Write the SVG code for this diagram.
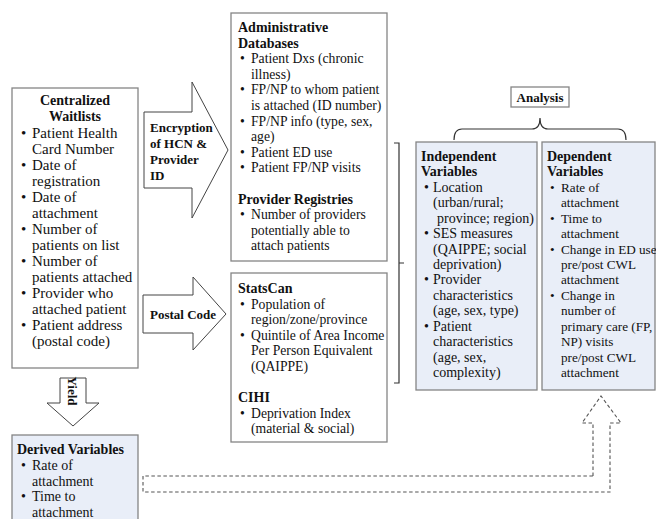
<svg xmlns="http://www.w3.org/2000/svg" width="656" height="519" viewBox="0 0 656 519">
<style>
text{font-family:"Liberation Serif","Times New Roman",serif;font-size:14px;fill:#111}
.b{font-weight:bold}
.s13 text{font-size:13.2px}
.s15 text{font-size:15px}
.s15 text.b{font-size:14px}
.s137 text{font-size:13.7px}
.s137 text.b{font-size:14px}
.lbl{font-size:13px}
.box{fill:#fff;stroke:#858585;stroke-width:1.3}
.blue{fill:#e9eef8;stroke:#858585;stroke-width:1.3}
.arr{fill:#fff;stroke:#444;stroke-width:1}
.ln{fill:none;stroke:#333;stroke-width:1.2}
.dash{fill:none;stroke:#555;stroke-width:1.1;stroke-dasharray:3.5 2.5}
</style>
<rect width="656" height="519" fill="#fff"/>

<g id="connectors">
  <path class="arr" d="M144,112 H192 V82 L228,150 L192,218 V188 H144 Z"/>
  <path class="arr" d="M143,295 H193 V277 L226,314 L193,350 V333 H143 Z"/>
  <path class="arr" d="M60,378 H86 V403 H99 L73,426 L47,403 H60 Z"/>
  <path class="ln" d="M394,143 H399 V383 H394 M399,263 H404"/>
  <path class="ln" d="M454,140 Q454,129 462,129 H532 Q540,129 540,118 Q540,129 548,129 H618 Q626,129 626,140" stroke-width="1"/>
  <path class="dash" d="M593,476 V423 H582 L601,396 L621,423 H610 V492 H143 V476 Z"/>
</g>

<g id="waitlists" class="s15">
  <rect class="box" x="12" y="88" width="126" height="280"/>
  <text class="b" x="75" y="105" text-anchor="middle">Centralized</text>
  <text class="b" x="75" y="121" text-anchor="middle">Waitlists</text>
  <text x="21" y="138">•</text><text x="32" y="138">Patient Health</text>
  <text x="32" y="154">Card Number</text>
  <text x="21" y="170">•</text><text x="32" y="170">Date of</text>
  <text x="32" y="186">registration</text>
  <text x="21" y="202">•</text><text x="32" y="202">Date of</text>
  <text x="32" y="218">attachment</text>
  <text x="21" y="234">•</text><text x="32" y="234">Number of</text>
  <text x="32" y="250">patients on list</text>
  <text x="21" y="266">•</text><text x="32" y="266">Number of</text>
  <text x="32" y="282">patients attached</text>
  <text x="21" y="298">•</text><text x="32" y="298">Provider who</text>
  <text x="32" y="314">attached patient</text>
  <text x="21" y="330">•</text><text x="32" y="330">Patient address</text>
  <text x="32" y="346">(postal code)</text>
</g>

<g id="encryption-label">
  <text class="b lbl" x="150" y="132">Encryption</text>
  <text class="b lbl" x="150" y="148">of HCN &amp;</text>
  <text class="b lbl" x="150" y="164">Provider</text>
  <text class="b lbl" x="150" y="180">ID</text>
</g>

<g id="postal-label">
  <text class="b lbl" x="150" y="319">Postal Code</text>
</g>

<g id="yield-label">
  <text class="b lbl" x="0" y="0" text-anchor="middle" transform="translate(68,391) rotate(90)">Yield</text>
</g>

<g id="admin" class="s137">
  <rect class="box" x="231" y="13" width="156" height="248"/>
  <text class="b" x="238" y="32">Administrative</text>
  <text class="b" x="238" y="47.6">Databases</text>
  <text x="240" y="63.2">•</text><text x="251" y="63.2">Patient Dxs (chronic</text>
  <text x="251" y="78.8">illness)</text>
  <text x="240" y="94.4">•</text><text x="251" y="94.4">FP/NP to whom patient</text>
  <text x="251" y="110">is attached (ID number)</text>
  <text x="240" y="125.6">•</text><text x="251" y="125.6">FP/NP info (type, sex,</text>
  <text x="251" y="141.2">age)</text>
  <text x="240" y="156.8">•</text><text x="251" y="156.8">Patient ED use</text>
  <text x="240" y="172.4">•</text><text x="251" y="172.4">Patient FP/NP visits</text>
  <text class="b" x="238" y="203.6">Provider Registries</text>
  <text x="240" y="219.2">•</text><text x="251" y="219.2">Number of providers</text>
  <text x="251" y="234.8">potentially able to</text>
  <text x="251" y="250.4">attach patients</text>
</g>

<g id="statscan" class="s137">
  <rect class="box" x="231" y="273" width="156" height="169"/>
  <text class="b" x="238" y="293">StatsCan</text>
  <text x="240" y="308.6">•</text><text x="251" y="308.6">Population of</text>
  <text x="251" y="324.2">region/zone/province</text>
  <text x="240" y="339.8">•</text><text x="251" y="339.8">Quintile of Area Income</text>
  <text x="251" y="355.4">Per Person Equivalent</text>
  <text x="251" y="371">(QAIPPE)</text>
  <text class="b" x="238" y="402.2">CIHI</text>
  <text x="240" y="417.8">•</text><text x="251" y="417.8">Deprivation Index</text>
  <text x="251" y="433.4">(material &amp; social)</text>
</g>

<g id="analysis">
  <rect class="box" x="511" y="87" width="58" height="20"/>
  <text class="b lbl" x="540" y="102" text-anchor="middle">Analysis</text>
</g>

<g id="independent">
  <rect class="blue" x="416" y="142" width="121" height="248"/>
  <text class="b" x="421" y="161">Independent</text>
  <text class="b" x="421" y="176.4">Variables</text>
  <text x="424" y="191.9">•</text><text x="433" y="191.9">Location</text>
  <text x="433" y="207.3">(urban/rural;</text>
  <text x="437" y="222.7">province; region)</text>
  <text x="424" y="238.1">•</text><text x="433" y="238.1">SES measures</text>
  <text x="433" y="253.6">(QAIPPE; social</text>
  <text x="433" y="269">deprivation)</text>
  <text x="424" y="284.4">•</text><text x="433" y="284.4">Provider</text>
  <text x="433" y="299.9">characteristics</text>
  <text x="433" y="315.3">(age, sex, type)</text>
  <text x="424" y="330.7">•</text><text x="433" y="330.7">Patient</text>
  <text x="433" y="346.1">characteristics</text>
  <text x="433" y="361.6">(age, sex,</text>
  <text x="433" y="377">complexity)</text>
</g>

<g id="dependent" class="s13">
  <rect class="blue" x="542" y="142" width="113" height="248"/>
  <text class="b" x="547" y="161" style="font-size:14px">Dependent</text>
  <text class="b" x="547" y="176.4" style="font-size:14px">Variables</text>
  <text x="550" y="191.9">•</text><text x="561" y="191.9">Rate of</text>
  <text x="561" y="207.3">attachment</text>
  <text x="550" y="222.7">•</text><text x="561" y="222.7">Time to</text>
  <text x="561" y="238.1">attachment</text>
  <text x="550" y="253.6">•</text><text x="561" y="253.6">Change in ED use</text>
  <text x="561" y="269">pre/post CWL</text>
  <text x="561" y="284.4">attachment</text>
  <text x="550" y="299.9">•</text><text x="561" y="299.9">Change in</text>
  <text x="561" y="315.3">number of</text>
  <text x="561" y="330.7">primary care (FP,</text>
  <text x="561" y="346.1">NP) visits</text>
  <text x="561" y="361.6">pre/post CWL</text>
  <text x="561" y="377">attachment</text>
</g>

<g id="derived">
  <rect class="blue" x="12" y="435" width="126" height="90"/>
  <text class="b" x="17" y="454">Derived Variables</text>
  <text x="21" y="470">•</text><text x="32" y="470">Rate of</text>
  <text x="32" y="485.5">attachment</text>
  <text x="21" y="501">•</text><text x="32" y="501">Time to</text>
  <text x="32" y="516.5">attachment</text>
</g>
</svg>
